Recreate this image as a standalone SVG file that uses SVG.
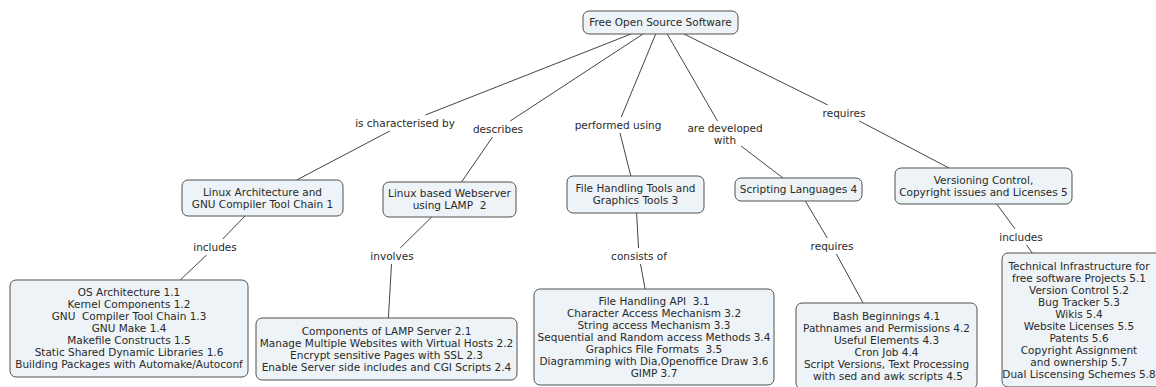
<svg xmlns="http://www.w3.org/2000/svg" width="1156" height="387" viewBox="0 0 1156 387">
<style>
.box{fill:#edf3f6;stroke:#505050;stroke-width:1}
text{font-family:"DejaVu Sans",Verdana,sans-serif;font-size:10.5px;fill:#2a2a2a;text-anchor:middle}
.c line{stroke:#444;stroke-width:1}
</style>
<rect width="1156" height="387" fill="#fff"/>
<g class="c" id="connectors">
<line x1="631" y1="34" x2="425.4" y2="115"/>
<line x1="389.8" y1="131" x2="296.7" y2="180"/>
<line x1="643" y1="34" x2="510.2" y2="121"/>
<line x1="492.5" y1="137" x2="461.5" y2="182"/>
<line x1="655.7" y1="34" x2="621.3" y2="117"/>
<line x1="620" y1="133" x2="630.8" y2="176"/>
<line x1="667.2" y1="34" x2="717.5" y2="121"/>
<line x1="741" y1="146" x2="783" y2="178"/>
<line x1="684" y1="34" x2="827.8" y2="105"/>
<line x1="859.3" y1="121" x2="949" y2="168"/>
<line x1="245" y1="216" x2="222.7" y2="239"/>
<line x1="206.6" y1="255" x2="180.2" y2="280"/>
<line x1="431.7" y1="217" x2="400.2" y2="248"/>
<line x1="391.5" y1="264" x2="388.4" y2="318"/>
<line x1="636.6" y1="213" x2="638.5" y2="248"/>
<line x1="640.5" y1="264" x2="645.1" y2="289"/>
<line x1="805.3" y1="201" x2="827.3" y2="238"/>
<line x1="836.4" y1="254" x2="863.1" y2="303"/>
<line x1="996.7" y1="204" x2="1015.1" y2="229"/>
<line x1="1026.6" y1="245" x2="1032.2" y2="253"/>
</g>
<g id="labels">
<text x="405" y="126.5">is characterised by</text>
<text x="498" y="132.5">describes</text>
<text x="618" y="128.5">performed using</text>
<text x="725" y="131.5">are developed</text>
<text x="725" y="143.5">with</text>
<text x="844" y="116.5">requires</text>
<text x="215" y="250.5">includes</text>
<text x="392" y="259.5">involves</text>
<text x="639" y="259.5">consists of</text>
<text x="832" y="249.5">requires</text>
<text x="1021" y="240.5">includes</text>
</g>
<g id="n-top">
<rect class="box" x="583" y="11" width="155" height="23" rx="6"/>
<text x="660.5" y="26">Free Open Source Software</text>
</g>
<g id="n1">
<rect class="box" x="182" y="180" width="161" height="36" rx="6"/>
<text x="262.5" y="195.6">Linux Architecture and</text>
<text x="262.5" y="207.6">GNU Compiler Tool Chain 1</text>
</g>
<g id="n2">
<rect class="box" x="383" y="182" width="133" height="35" rx="6"/>
<text x="449.5" y="197">Linux based Webserver</text>
<text x="449.5" y="209">using LAMP&#160; 2</text>
</g>
<g id="n3">
<rect class="box" x="567" y="176" width="137" height="37" rx="6"/>
<text x="635.5" y="192">File Handling Tools and</text>
<text x="635.5" y="204">Graphics Tools 3</text>
</g>
<g id="n4">
<rect class="box" x="735" y="178" width="127" height="23" rx="6"/>
<text x="798.5" y="193">Scripting Languages 4</text>
</g>
<g id="n5">
<rect class="box" x="895" y="168" width="177" height="36" rx="6"/>
<text x="983.5" y="183.5">Versioning Control,</text>
<text x="983.5" y="195.5">Copyright issues and Licenses 5</text>
</g>
<g id="b1">
<rect class="box" x="10" y="280" width="238" height="97" rx="6"/>
<text x="129" y="296">OS Architecture 1.1</text>
<text x="129" y="308">Kernel Components 1.2</text>
<text x="129" y="320">GNU&#160; Compiler Tool Chain 1.3</text>
<text x="129" y="332">GNU Make 1.4</text>
<text x="129" y="344">Makefile Constructs 1.5</text>
<text x="129" y="356">Static Shared Dynamic Libraries 1.6</text>
<text x="129" y="368">Building Packages with Automake/Autoconf</text>
</g>
<g id="b2">
<rect class="box" x="256" y="318" width="261" height="62" rx="6"/>
<text x="386.5" y="334.5">Components of LAMP Server 2.1</text>
<text x="386.5" y="346.5">Manage Multiple Websites with Virtual Hosts 2.2</text>
<text x="386.5" y="358.5">Encrypt sensitive Pages with SSL 2.3</text>
<text x="386.5" y="370.5">Enable Server side includes and CGI Scripts 2.4</text>
</g>
<g id="b3">
<rect class="box" x="534" y="289" width="240" height="96" rx="6"/>
<text x="654" y="304.5">File Handling API&#160; 3.1</text>
<text x="654" y="316.5">Character Access Mechanism 3.2</text>
<text x="654" y="328.5">String access Mechanism 3.3</text>
<text x="654" y="340.5">Sequential and Random access Methods 3.4</text>
<text x="654" y="352.5">Graphics File Formats&#160; 3.5</text>
<text x="654" y="364.5">Diagramming with Dia,Openoffice Draw 3.6</text>
<text x="654" y="376.5">GIMP 3.7</text>
</g>
<g id="b4">
<rect class="box" x="796" y="303" width="181" height="86" rx="6"/>
<text x="886.5" y="319.5">Bash Beginnings 4.1</text>
<text x="886.5" y="331.5">Pathnames and Permissions 4.2</text>
<text x="886.5" y="343.5">Useful Elements 4.3</text>
<text x="886.5" y="355.5">Cron Job 4.4</text>
<text x="886.5" y="367.5">Script Versions, Text Processing</text>
<text x="888" y="379.5">with sed and awk scripts 4.5</text>
</g>
<g id="b5">
<rect class="box" x="1002" y="253" width="160" height="134" rx="6"/>
<text x="1079" y="269.5">Technical Infrastructure for</text>
<text x="1079" y="281.5">free software Projects 5.1</text>
<text x="1079" y="293.5">Version Control 5.2</text>
<text x="1079" y="305.5">Bug Tracker 5.3</text>
<text x="1079" y="317.5">Wikis 5.4</text>
<text x="1079" y="329.5">Website Licenses 5.5</text>
<text x="1079" y="341.5">Patents 5.6</text>
<text x="1079" y="353.5">Copyright Assignment</text>
<text x="1079" y="365.5">and ownership 5.7</text>
<text x="1079" y="377.5">Dual Liscensing Schemes 5.8</text>
</g>
</svg>
